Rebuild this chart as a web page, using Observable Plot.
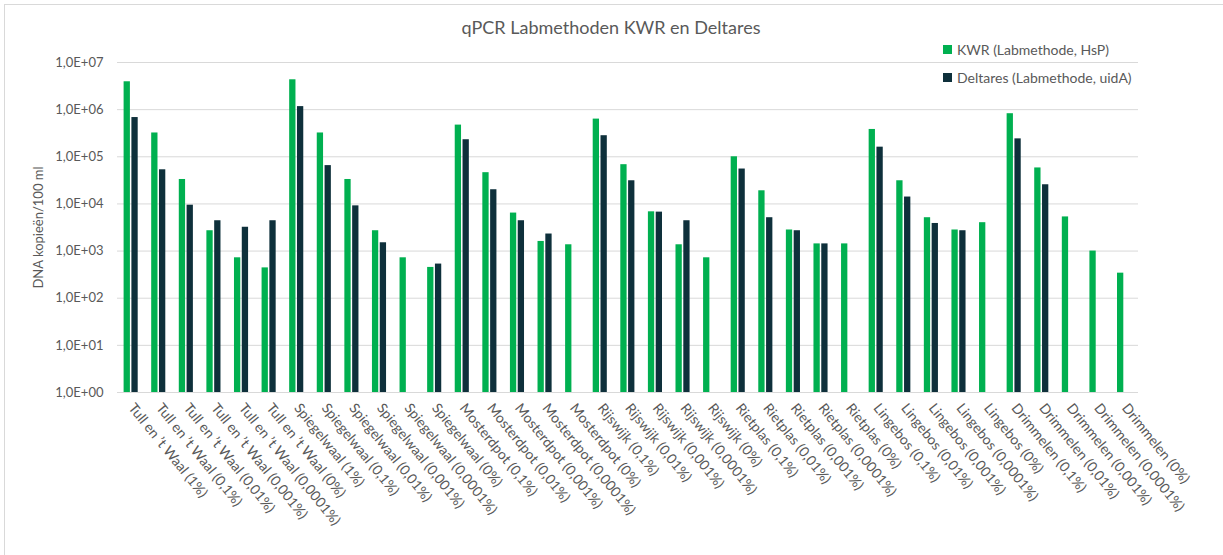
<!DOCTYPE html>
<html><head><meta charset="utf-8">
<script src="https://cdn.jsdelivr.net/npm/d3@7"></script>
<script src="https://cdn.jsdelivr.net/npm/@observablehq/plot@0.6"></script>
<style>
body{margin:0;background:#fff;font-family:Lato,"Open Sans",sans-serif;}
#wrap{position:relative;width:1223px;height:555px;overflow:hidden;background:#fff}
#frame{position:absolute;left:4px;top:4px;width:1240px;height:570px;border:1px solid #d9d9d9;box-sizing:border-box;pointer-events:none}
#chart{position:absolute;left:0;top:0}
#title{position:absolute;left:0;width:1222px;text-align:center;top:16px;font-size:18px;color:#595959}
.leg{position:absolute;left:943px;font-size:14px;color:#595959;display:flex;align-items:center;white-space:nowrap}
.sw{width:9px;height:9px;margin-right:5px}
</style></head><body>
<div id="wrap">
  <div id="chart"></div>
  <div id="title">qPCR Labmethoden KWR en Deltares</div>
  <div class="leg" style="top:41px"><span class="sw" style="background:#00B050"></span>KWR (Labmethode, HsP)</div>
  <div class="leg" style="top:69px"><span class="sw" style="background:#0E303B"></span>Deltares (Labmethode, uidA)</div>
  <div id="frame"></div>
</div>
<script>
const categories = [
  "Tull en ’t Waal (1%)","Tull en ’t Waal (0,1%)","Tull en ’t Waal (0,01%)","Tull en ’t Waal (0,001%)","Tull en ’t Waal (0,0001%)","Tull en ’t Waal (0%)",
  "Spiegelwaal (1%)","Spiegelwaal (0,1%)","Spiegelwaal (0,01%)","Spiegelwaal (0,001%)","Spiegelwaal (0,0001%)","Spiegelwaal (0%)",
  "Mosterdpot (0,1%)","Mosterdpot (0,01%)","Mosterdpot (0,001%)","Mosterdpot (0,0001%)","Mosterdpot (0%)",
  "Rijswijk (0,1%)","Rijswijk (0,01%)","Rijswijk (0,001%)","Rijswijk (0,0001%)","Rijswijk (0%)",
  "Rietplas (0,1%)","Rietplas (0,01%)","Rietplas (0,001%)","Rietplas (0,0001%)","Rietplas (0%)",
  "Lingebos (0,1%)","Lingebos (0,01%)","Lingebos (0,001%)","Lingebos (0,0001%)","Lingebos (0%)",
  "Drimmelen (0,1%)","Drimmelen (0,01%)","Drimmelen (0,001%)","Drimmelen (0,0001%)","Drimmelen (0%)"
];
const kwr = [
  3.9e6, 3.2e5, 3.3e4, 2.7e3, 720, 440,
  4.3e6, 3.2e5, 3.3e4, 2.7e3, 720, 450,
  4.7e5, 4.6e4, 6.4e3, 1.6e3, 1.36e3,
  6.3e5, 6.8e4, 6.8e3, 1.36e3, 720,
  1.0e5, 1.9e4, 2.8e3, 1.42e3, 1.42e3,
  3.8e5, 3.1e4, 5.1e3, 2.8e3, 4.0e3,
  8.2e5, 5.8e4, 5.3e3, 1.0e3, 340
];
const deltares = [
  6.8e5, 5.3e4, 9.4e3, 4.4e3, 3.2e3, 4.4e3,
  1.16e6, 6.5e4, 9.1e3, 1.5e3, null, 530,
  2.3e5, 2.0e4, 4.4e3, 2.3e3, null,
  2.8e5, 3.1e4, 6.7e3, 4.4e3, null,
  5.5e4, 5.1e3, 2.7e3, 1.42e3, null,
  1.6e5, 1.4e4, 3.85e3, 2.7e3, null,
  2.4e5, 2.55e4, null, null, null
];
const yTicks = [1, 10, 100, 1e3, 1e4, 1e5, 1e6, 1e7];

const kwrRows = categories.map((c, i) => ({cat: c, v: kwr[i]})).filter(d => d.v != null);
const delRows = categories.map((c, i) => ({cat: c, v: deltares[i]})).filter(d => d.v != null);
const fmt = d => "1,0E+" + String(Math.round(Math.log10(d))).padStart(2, "0");

const chart = Plot.plot({
  width: 1223,
  height: 555,
  marginLeft: 117,
  marginRight: 85,
  marginTop: 62,
  marginBottom: 163,
  style: {fontFamily: "Lato, 'Open Sans', sans-serif", color: "#595959", background: "transparent"},
  x: {type: "band", domain: categories, padding: 0, round: false},
  y: {type: "log", domain: [1, 1e7]},
  marks: [
    Plot.ruleY(yTicks, {stroke: "#d9d9d9", strokeWidth: 1}),
    Plot.barY(kwrRows, {x: "cat", y1: 1, y2: "v", fill: "#00B050", insetLeft: 6.6, insetRight: 14.7}),
    Plot.barY(delRows, {x: "cat", y1: 1, y2: "v", fill: "#0E303B", insetLeft: 14.4, insetRight: 6.9}),
    Plot.axisY({ticks: yTicks, tickFormat: fmt, tickSize: 0, tickPadding: 14, fontSize: 13,
      label: "DNA kopieën/100 ml", labelAnchor: "center", labelArrow: "none", labelOffset: 84}),
    Plot.axisX({tickSize: 0, tickPadding: 13, tickRotate: 51, fontSize: 14, label: null})
  ]
});
document.getElementById("chart").appendChild(chart);
</script>
</body></html>
